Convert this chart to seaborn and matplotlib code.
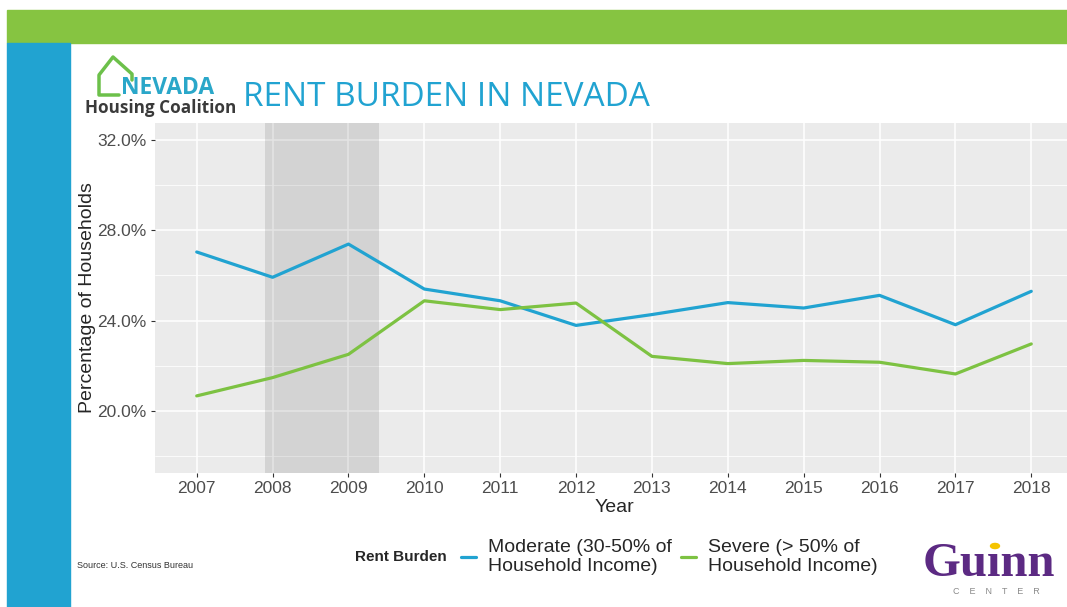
import pandas as pd
import matplotlib.pyplot as plt
import seaborn as sns
from matplotlib.lines import Line2D
from matplotlib.patches import Rectangle

# ---------------------------------------------------
# Daten
# ---------------------------------------------------
years = [2007, 2008, 2009, 2010, 2011, 2012, 2013, 2014, 2015, 2016, 2017, 2018]
moderate = [27.04, 25.92, 27.39, 25.40, 24.88, 23.79, 24.27, 24.80, 24.56, 25.12, 23.82, 25.30]
severe = [20.67, 21.48, 22.51, 24.88, 24.49, 24.78, 22.42, 22.10, 22.24, 22.16, 21.64, 22.97]
series_names = ["Moderate (30-50% of\nHousehold Income)", "Severe (> 50% of\nHousehold Income)"]
recession = (2007.9, 2009.4)
y_ticks = [20, 24, 28, 32]

df = pd.concat([
    pd.DataFrame({"Year": years, "Value": moderate, "Rent Burden": series_names[0]}),
    pd.DataFrame({"Year": years, "Value": severe, "Rent Burden": series_names[1]}),
])

BLUE = "#21a3d1"
GREEN = "#7dc242"
W, H = 1067, 607


def fx(px):
    return px / W


def fy(py):
    return 1 - py / H


sns.set_style("white")
plt.rcParams["font.family"] = ["Liberation Sans", "DejaVu Sans"]

fig = plt.figure(figsize=(10.67, 6.07), dpi=100)

# ---------------------------------------------------
# Rahmen (grüner Balken oben, blauer Balken links)
# ---------------------------------------------------
fig.add_artist(Rectangle((fx(7), fy(43)), fx(1060), 33 / H, color="#86c441",
                         transform=fig.transFigure, zorder=0))
fig.add_artist(Rectangle((fx(7), 0), fx(63), fy(43), color=BLUE,
                         transform=fig.transFigure, zorder=0))

# ---------------------------------------------------
# Plot
# ---------------------------------------------------
ax = fig.add_axes([fx(155), fy(472.7), fx(1073 - 155), (472.7 - 123) / H])
ax.set_facecolor("#ebebeb")
for s in ax.spines.values():
    s.set_visible(False)

ax.set_xlim(2006.45, 2018.55)
ax.set_ylim(17.27, 32.75)
ax.set_xticks(years)
ax.set_yticks(y_ticks)
ax.set_yticks([18, 22, 26, 30], minor=True)
ax.grid(which="major", color="white", linewidth=1.1)
ax.grid(which="minor", axis="y", color="white", linewidth=0.55)
ax.set_axisbelow(True)

ax.axvspan(recession[0], recession[1], color="black", alpha=0.1, lw=0, zorder=1.5)

sns.lineplot(data=df, x="Year", y="Value", hue="Rent Burden",
             palette=[BLUE, GREEN], linewidth=2.3, ax=ax, zorder=3)

ax.set_yticklabels([f"{v:.1f}%" for v in y_ticks])
ax.tick_params(axis="both", which="major", length=3, width=0.8, color="#333333",
               labelsize=12.5, labelcolor="#4d4d4d", pad=3, bottom=True, left=True)
ax.tick_params(axis="y", which="minor", length=0)
ax.set_xlabel("Year", fontsize=14, labelpad=2)
ax.set_ylabel("Percentage of Households", fontsize=14, labelpad=1)

sns.move_legend(ax, "center left", bbox_to_anchor=(fx(451), fy(557)),
                bbox_transform=fig.transFigure, ncol=2, title=None, frameon=False,
                borderpad=0, handlelength=0.78, handletextpad=0.6, columnspacing=0.5,
                prop={"size": 14})
for t in ax.get_legend().get_texts():
    t.set_linespacing(1.15)
fig.text(fx(355), fy(557), "Rent Burden", fontsize=11, fontweight="bold",
         va="center", ha="left")

# ---------------------------------------------------
# Titel und Logos
# ---------------------------------------------------
fig.text(fx(243), fy(98), "RENT BURDEN IN NEVADA", color=BLUE, fontsize=24,
         family=["Open Sans", "DejaVu Sans"], va="center", ha="left")

house_x = [119, 99, 99, 113, 132, 132]
house_y = [95, 95, 75, 57, 74, 80]
fig.add_artist(Line2D([fx(v) for v in house_x], [fy(v) for v in house_y],
                      color="#6cc04a", lw=2.5, transform=fig.transFigure))
fig.text(fx(121), fy(88), "NEVADA", color="#2aa7c9", fontsize=16.5, fontweight="bold",
         family=["Open Sans", "DejaVu Sans"], va="center", ha="left")
fig.text(fx(85), fy(108), "Housing Coalition", color="#3a3a3a", fontsize=12.3,
         fontweight="bold", family=["Open Sans", "DejaVu Sans"], va="center", ha="left")

fig.text(fx(77), fy(566), "Source: U.S. Census Bureau", fontsize=6.5, color="#333333",
         va="center", ha="left")

fig.text(fx(923), fy(576), "Guınn", color="#5c2a83", fontsize=35,
         fontweight="bold", family=["Liberation Serif", "DejaVu Serif"],
         va="baseline", ha="left")
fig.add_artist(plt.Circle((fx(995), fy(546)), 0.0042, color="#f5c400",
                          transform=fig.transFigure))
fig.text(fx(996), fy(592), "C    E    N    T    E    R", color="#8a8a8a", fontsize=6.5,
         va="center", ha="center")

fig.savefig("out.png", dpi=100)
